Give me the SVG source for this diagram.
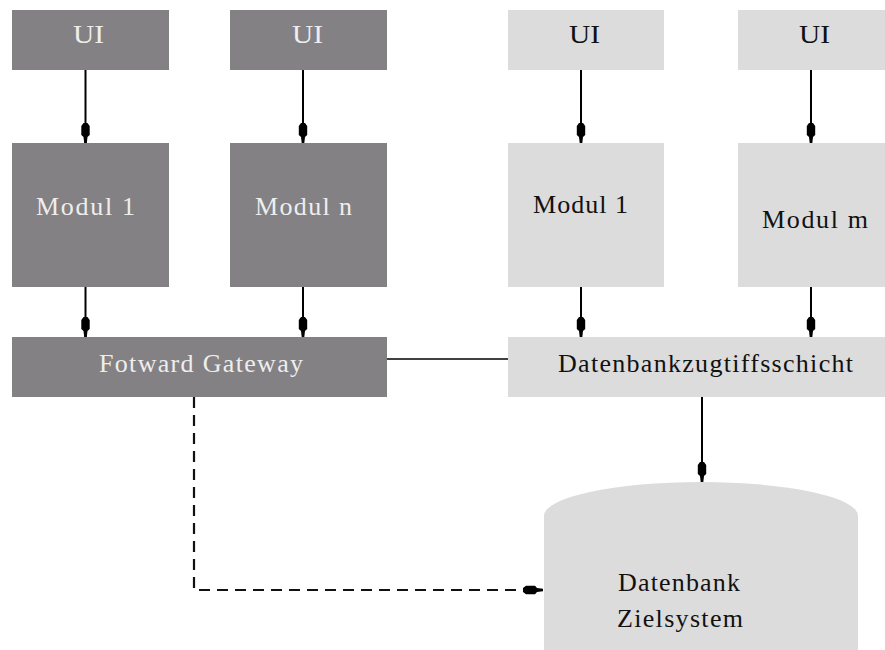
<svg xmlns="http://www.w3.org/2000/svg" width="885" height="650" viewBox="0 0 885 650">
<style>
.dark{fill:#838183}
.light{fill:#dcdcdc}
.t{font-family:"Liberation Serif","DejaVu Serif",serif;font-size:26px}
.tl{fill:#eeeeee}
.td{fill:#111111}
.c{stroke:#000;stroke-width:2;fill:none}
.d{stroke:#111;stroke-width:2.2;fill:none;stroke-dasharray:11 7}
</style>
<defs>
<marker id="ah" markerUnits="userSpaceOnUse" markerWidth="24" markerHeight="12" viewBox="-20 -6 22 12" refX="0" refY="0" orient="auto" overflow="visible">
<path d="M-20,-2 L-17,-4.2 L-8,-4.2 L-6,-2 L0,-1.3 L0,1.3 L-6,2 L-8,4.2 L-17,4.2 L-20,2 Z" fill="#000"/>
</marker>
</defs>
<rect width="885" height="650" fill="#fff"/>
<g id="ui1"><rect class="dark" x="12" y="10" width="157" height="60"/><text class="t tl" x="73" y="43" textLength="31" lengthAdjust="spacingAndGlyphs">UI</text></g>
<g id="ui2"><rect class="dark" x="230" y="10" width="157" height="60"/><text class="t tl" x="292" y="43" textLength="31" lengthAdjust="spacingAndGlyphs">UI</text></g>
<g id="ui3"><rect class="light" x="508" y="10" width="156" height="60"/><text class="t td" x="569" y="43" textLength="31" lengthAdjust="spacingAndGlyphs">UI</text></g>
<g id="ui4"><rect class="light" x="738" y="10" width="147" height="60"/><text class="t td" x="799" y="43" textLength="31" lengthAdjust="spacingAndGlyphs">UI</text></g>
<g id="modul1a"><rect class="dark" x="12" y="143" width="157" height="144"/><text class="t tl" x="36" y="215" textLength="99">Modul 1</text></g>
<g id="moduln"><rect class="dark" x="230" y="143" width="157" height="144"/><text class="t tl" x="255" y="215" textLength="97">Modul n</text></g>
<g id="modul1b"><rect class="light" x="508" y="143" width="156" height="144"/><text class="t td" x="533" y="213" textLength="95">Modul 1</text></g>
<g id="modulm"><rect class="light" x="738" y="143" width="147" height="144"/><text class="t td" x="762" y="228" textLength="106">Modul m</text></g>
<g id="gateway"><rect class="dark" x="12" y="337" width="375" height="60"/><text class="t tl" x="99" y="372" textLength="204">Fotward Gateway</text></g>
<g id="dbschicht"><rect class="light" x="508" y="337" width="377" height="60"/><text class="t td" x="558" y="372" textLength="295">Datenbankzugtiffsschicht</text></g>
<g id="datenbank"><path class="light" d="M544,516 A157,34 0 0 1 858,516 L858,650 L544,650 Z"/><text class="t td" x="618" y="591" textLength="122">Datenbank</text><text class="t td" x="617" y="627" textLength="126">Zielsystem</text></g>
<g id="connectors">
<line class="c" x1="85.5" y1="70" x2="85.5" y2="143" marker-end="url(#ah)"/>
<line class="c" x1="303" y1="70" x2="303" y2="143" marker-end="url(#ah)"/>
<line class="c" x1="581" y1="70" x2="581" y2="143" marker-end="url(#ah)"/>
<line class="c" x1="811" y1="70" x2="811" y2="143" marker-end="url(#ah)"/>
<line class="c" x1="85.5" y1="287" x2="85.5" y2="337" marker-end="url(#ah)"/>
<line class="c" x1="303" y1="287" x2="303" y2="337" marker-end="url(#ah)"/>
<line class="c" x1="581" y1="287" x2="581" y2="337" marker-end="url(#ah)"/>
<line class="c" x1="811" y1="287" x2="811" y2="337" marker-end="url(#ah)"/>
<line x1="387" y1="359" x2="508" y2="359" stroke="#000" stroke-width="1.6"/>
<line class="c" x1="702" y1="397" x2="702" y2="482" marker-end="url(#ah)"/>
<path class="d" d="M194,397 L194,590 L526,590"/>
<line class="c" x1="528" y1="590" x2="543" y2="590" marker-end="url(#ah)"/>
</g>
</svg>
